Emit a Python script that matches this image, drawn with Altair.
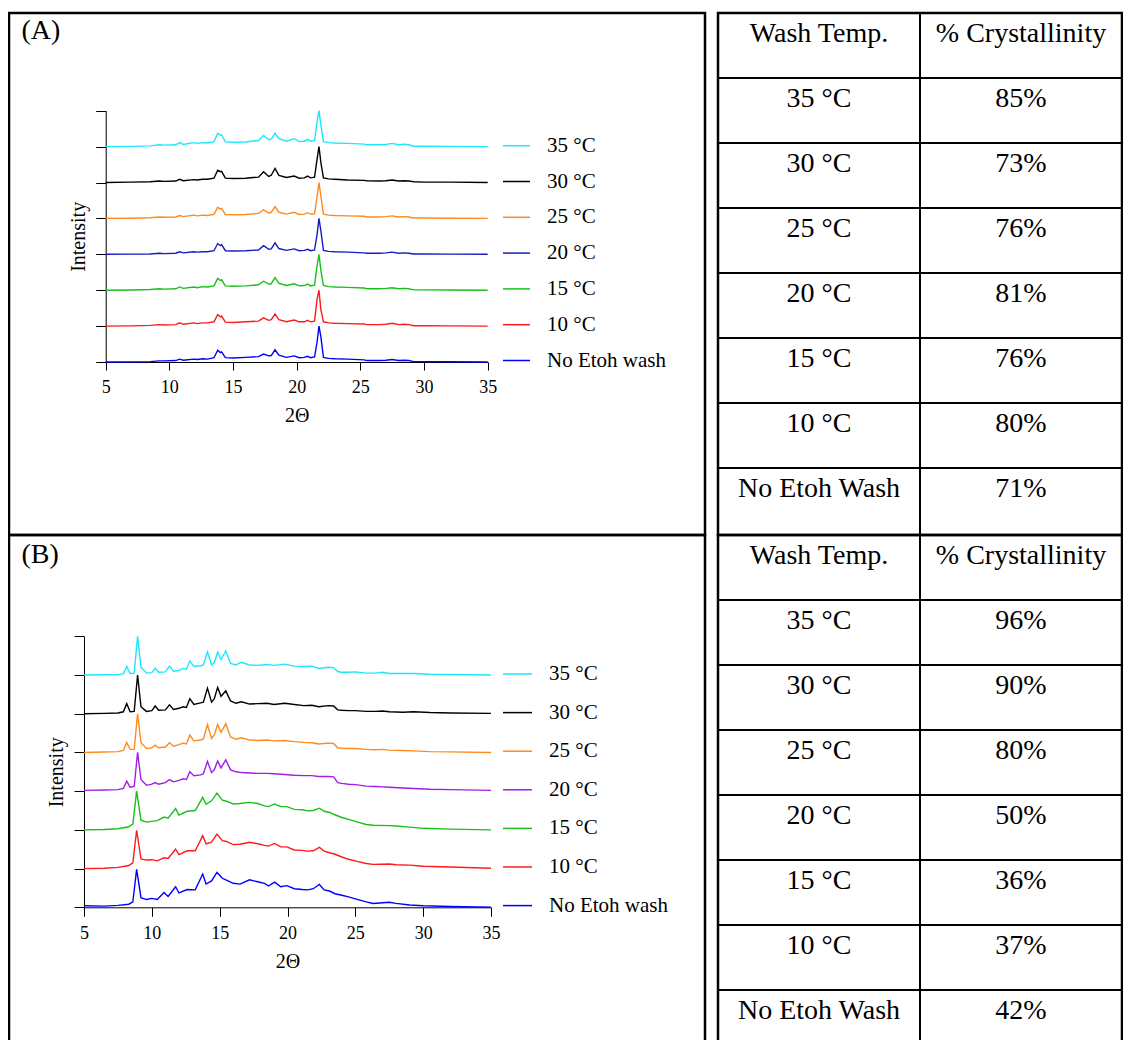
import altair as alt
import pandas as pd

FONT = "Liberation Serif"

# ---------------- data ----------------
series_order = ["35 °C", "30 °C", "25 °C", "20 °C", "15 °C", "10 °C", "No Etoh wash"]

# Panel A : 2-theta grid and relative intensities (100 = tallest peak)
theta_A = [5, 7, 8.5, 9.2, 9.6, 10.5, 10.8, 11.1, 11.9, 12.2, 12.6, 13.0, 13.5, 13.8, 14.0, 14.1,
           14.4, 15, 16, 17.0, 17.4, 17.8, 18.0, 18.3, 18.6, 19.2, 19.8, 20.2, 20.6, 20.85, 21.1,
           21.4, 21.6, 21.75, 21.9, 22.1, 22.5, 23, 24, 25.3, 25.5, 26.5, 27.0, 27.5, 28.0, 28.4,
           28.8, 29.2, 30, 32, 35]
A_35 = [0, 0.5, 2, 5, 4, 5, 11, 6, 11, 9, 11, 10, 14, 37, 32, 33, 13, 12, 13, 17, 31, 19, 21, 37,
        22, 15, 22, 14, 15, 20, 15, 17, 70, 100, 60, 14, 11, 10, 9, 7, 5, 5, 6, 9, 5, 7, 5, 1, 1, 0.5, 0]
A_30 = [0, 1, 2, 4, 3, 4, 9, 5, 8, 7, 9, 9, 12, 34, 30, 31, 12, 11, 12, 15, 30, 17, 20, 39, 20,
        14, 18, 12, 13, 18, 13, 15, 65, 100, 55, 13, 10, 9, 7, 6, 5, 4, 5, 7, 4, 5, 4, 2, 1, 1, 0]
A_25 = [0, 0.5, 2, 4, 3, 4, 8, 5, 9, 7, 9, 8, 11, 31, 26, 28, 11, 10, 11, 14, 24, 15, 17, 33, 17,
        12, 17, 11, 12, 16, 12, 13, 60, 100, 62, 12, 9, 8, 7, 6, 4, 4, 5, 7, 4, 5, 4, 1, 1, 0.5, 0]
A_20 = [0, 0.5, 1, 3, 2, 3, 7, 4, 7, 6, 7, 7, 10, 30, 24, 27, 10, 9, 10, 12, 24, 14, 15, 32, 16,
        11, 15, 10, 11, 14, 10, 12, 55, 100, 65, 11, 8, 7, 6, 4, 3, 3, 4, 6, 3, 4, 3, 1, 1, 0.5, 0]
A_15 = [0, 0.5, 2, 4, 3, 4, 9, 5, 9, 7, 10, 9, 12, 33, 27, 29, 12, 11, 12, 15, 25, 17, 18, 35, 19,
        13, 18, 12, 13, 17, 12, 14, 68, 100, 55, 13, 10, 9, 8, 6, 4, 4, 5, 7, 4, 5, 4, 1, 1, 0.5, 0]
A_10 = [0, 0.5, 2, 4, 3, 4, 9, 5, 9, 7, 9, 9, 12, 32, 26, 28, 11, 10, 12, 14, 23, 16, 18, 34, 18,
        12, 17, 12, 12, 16, 12, 14, 75, 100, 45, 12, 9, 8, 7, 6, 4, 4, 5, 8, 4, 5, 4, 1, 1, 0.5, 0]
A_no = [0, 0.3, 1, 3, 3, 4, 8, 5, 8, 7, 9, 8, 12, 33, 26, 28, 12, 11, 13, 15, 22, 17, 18, 34, 19,
        13, 17, 12, 13, 16, 12, 14, 55, 100, 70, 13, 10, 9, 8, 6, 4, 4, 5, 7, 4, 5, 4, 1, 1, 0.5, 0]

# Panel B : two 2-theta grids
theta_B1 = [5, 6.5, 7.5, 7.9, 8.15, 8.4, 8.7, 8.95, 9.2, 9.6, 10.0, 10.25, 10.5, 11.0, 11.3, 11.6,
            12.0, 12.3, 12.55, 12.8, 13.1, 13.6, 13.8, 14.1, 14.4, 14.6, 14.85, 15.1, 15.45, 15.8,
            16.2, 16.6, 17.2, 17.8, 18.5, 19.0, 19.8, 20.5, 21.2, 21.8, 22.3, 23.0, 23.4, 23.7,
            24.0, 24.5, 25.0, 25.8, 26.5, 27.0, 27.5, 28.5, 29.3, 30.5, 32, 35]
B_35 = [0, 0.5, 1, 3, 22, 4, 5, 100, 20, 5, 6, 18, 7, 8, 23, 10, 12, 17, 15, 36, 22, 24, 26, 60,
        26, 32, 59, 40, 62, 30, 26, 33, 26, 25, 27, 25, 28, 23, 22, 23, 17, 20, 19, 9, 7, 7, 8,
        5, 5, 7, 4, 4, 4, 2, 1.5, 0]
B_30 = [0, 1, 2, 5, 26, 5, 6, 100, 18, 6, 8, 20, 9, 10, 23, 11, 14, 18, 16, 39, 24, 28, 30, 66,
        30, 38, 68, 45, 59, 33, 27, 31, 25, 26, 27, 24, 27, 24, 21, 22, 18, 21, 20, 10, 9, 8, 8,
        6, 6, 7, 5, 4, 5, 3, 2, 1]
B_25 = [0, 1, 2, 5, 26, 8, 8, 100, 25, 10, 12, 19, 12, 14, 25, 16, 20, 24, 22, 45, 30, 32, 35, 72,
        36, 45, 72, 52, 74, 40, 34, 38, 32, 31, 32, 30, 31, 28, 26, 25, 22, 24, 23, 12, 11, 10,
        10, 8, 7, 8, 6, 5, 4, 2, 1.5, 0]
B_20 = [2, 3, 4, 7, 26, 10, 12, 100, 30, 15, 18, 22, 18, 22, 30, 24, 28, 32, 30, 50, 40, 42, 45,
        77, 48, 55, 78, 60, 81, 55, 50, 48, 47, 46, 46, 45, 43, 41, 40, 40, 38, 38, 37, 22, 20,
        18, 17, 13, 12, 11, 10, 8, 7, 5, 4, 2]

theta_B2 = [5, 6.5, 7.5, 8.3, 8.6, 8.88, 9.2, 9.6, 10.0, 10.4, 10.9, 11.2, 11.75, 12.0, 12.6, 13.2,
            13.75, 14.0, 14.4, 14.8, 15.2, 15.5, 16.0, 16.5, 17.2, 17.8, 18.3, 18.6, 19.05, 19.5,
            19.95, 20.5, 21.1, 21.5, 21.9, 22.35, 22.7, 23.1, 23.5, 24.0, 24.5, 25.2, 25.8, 26.3,
            27.5, 28.0, 29.0, 30.0, 32, 35]
B_15 = [0, 1, 3, 8, 15, 100, 25, 20, 22, 24, 33, 30, 55, 38, 48, 50, 84, 66, 75, 95, 77, 74, 67,
        68, 71, 68, 62, 60, 67, 60, 60, 53, 52, 49, 50, 56, 48, 45, 39, 32, 27, 20, 14, 12, 11,
        10, 7, 4, 2, 0]
B_10 = [0, 1, 3, 8, 15, 99, 25, 22, 23, 20, 28, 26, 50, 36, 46, 46, 85, 64, 68, 89, 72, 70, 62,
        63, 68, 64, 60, 58, 65, 56, 56, 48, 47, 45, 46, 55, 45, 41, 37, 30, 24, 18, 13, 11, 12,
        10, 9, 6, 4, 1]
B_no = [4, 3, 5, 8, 14, 98, 25, 20, 23, 20, 38, 28, 53, 37, 46, 45, 86, 60, 68, 90, 75, 70, 62,
        60, 71, 66, 62, 55, 65, 53, 56, 48, 46, 45, 48, 59, 45, 42, 35, 31, 27, 20, 14, 10, 13,
        10, 6, 4, 2, 0]

colors_A = ["#1EE6FF", "#000000", "#FF8A1E", "#1A1AC0", "#19C019", "#FF1A1A", "#0000FF"]
colors_B = ["#1EE6FF", "#000000", "#FF8A1E", "#A01EE6", "#19C019", "#FF1A1A", "#0000FF"]

table_header = ["Wash Temp.", "% Crystallinity"]
table_temps = ["35 °C", "30 °C", "25 °C", "20 °C", "15 °C", "10 °C", "No Etoh Wash"]
cryst_A = ["85%", "73%", "76%", "81%", "76%", "80%", "71%"]
cryst_B = ["96%", "90%", "80%", "50%", "36%", "37%", "42%"]

x_ticks = [5, 10, 15, 20, 25, 30, 35]


def long_df(pairs):
    rows = []
    n = len(series_order)
    for i, name in enumerate(series_order):
        th, vals = pairs[name]
        for t, v in zip(th, vals):
            rows.append({"theta": t, "intensity": v, "series": name, "level": n - 1 - i})
    return pd.DataFrame(rows)


dfA = long_df({
    "35 °C": (theta_A, A_35), "30 °C": (theta_A, A_30), "25 °C": (theta_A, A_25),
    "20 °C": (theta_A, A_20), "15 °C": (theta_A, A_15), "10 °C": (theta_A, A_10),
    "No Etoh wash": (theta_A, A_no)})
dfB = long_df({
    "35 °C": (theta_B1, B_35), "30 °C": (theta_B1, B_30), "25 °C": (theta_B1, B_25),
    "20 °C": (theta_B1, B_20), "15 °C": (theta_B2, B_15), "10 °C": (theta_B2, B_10),
    "No Etoh wash": (theta_B2, B_no)})


def xrd_plot(df, colors, label, W, H, xr, yr, tick_x, leg_x, leg_y, sym_w, row_pad, label_y):
    x = alt.X("theta:Q",
              scale=alt.Scale(domain=[5, 35], range=xr, nice=False, zero=False),
              axis=alt.Axis(values=x_ticks, format="d", title="2Θ", offset=-(H - yr[0]),
                            tickSize=tick_x, labelFont=FONT, labelFontSize=18, labelPadding=8,
                            labelFlush=False, titleFont=FONT, titleFontSize=20,
                            titleFontWeight="normal", titlePadding=9))
    y = alt.Y("yy:Q",
              scale=alt.Scale(domain=[0, 700], range=yr, nice=False, zero=False),
              axis=alt.Axis(values=list(range(0, 701, 100)), labels=False, title="Intensity",
                            offset=-xr[0], tickSize=10, titleFont=FONT, titleFontSize=20,
                            titleFontWeight="normal", titlePadding=7))
    color = alt.Color("series:N",
                      scale=alt.Scale(domain=series_order, range=colors),
                      legend=alt.Legend(title=None, orient="none", legendX=leg_x, legendY=leg_y,
                                        direction="vertical", symbolType="stroke",
                                        symbolSize=sym_w * sym_w, symbolStrokeWidth=1.5,
                                        labelFont=FONT, labelFontSize=21, labelOffset=16,
                                        rowPadding=row_pad, padding=0, labelColor="black"))
    lines = (alt.Chart(df)
             .transform_calculate(yy="datum.intensity + 100 * datum.level")
             .mark_line(strokeWidth=1.4)
             .encode(x=x, y=y, color=color))
    lab = (alt.Chart(pd.DataFrame({"t": [label]}))
           .mark_text(font=FONT, fontSize=28, align="left", baseline="alphabetic", color="black")
           .encode(x=alt.value(12.5), y=alt.value(label_y), text="t:N"))
    return alt.layer(lines, lab).properties(width=W, height=H)


def table(cryst, W, H, row_h):
    row_ids = [f"r{i}" for i in range(8)]
    dft = pd.DataFrame({
        "row": row_ids * 2,
        "col": ["c1"] * 8 + ["c2"] * 8,
        "txt": [table_header[0]] + table_temps + [table_header[1]] + cryst,
    })
    ys = alt.Scale(domain=row_ids, range=[0, 8 * row_h], paddingInner=0, paddingOuter=0)
    xs = alt.Scale(domain=["c1", "c2"], paddingInner=0, paddingOuter=0)
    text = (alt.Chart(dft)
            .mark_text(font=FONT, fontSize=28, baseline="alphabetic", dy=28.5, color="black")
            .encode(x=alt.X("col:N", scale=xs, axis=None),
                    y=alt.Y("row:N", bandPosition=0, scale=ys, axis=None),
                    text="txt:N"))
    hl = (alt.Chart(pd.DataFrame({"row": row_ids[1:]}))
          .mark_rule(color="black", strokeWidth=2)
          .encode(y=alt.Y("row:N", bandPosition=0, scale=ys, axis=None)))
    vl = (alt.Chart(pd.DataFrame({"col": ["c2"]}))
          .mark_rule(color="black", strokeWidth=2)
          .encode(x=alt.X("col:N", bandPosition=0, scale=xs, axis=None)))
    return alt.layer(hl, vl, text).properties(width=W, height=H)


HA = 522
HB = 511
TW = 404
plotA = xrd_plot(dfA, colors_A, "(A)", 696, HA, [96.7, 478.7], [349.0, 97.7], 8,
                 493, 118.2, 27, 10.8, 26)
plotB = xrd_plot(dfB, colors_B, "(B)", 696, HB, [75.0, 482.0], [372.3, 101.3], 9,
                 493, 123.5, 29, 12.6, 28)
tabA = table(cryst_A, TW, HA, 65)
tabB = table(cryst_B, TW, HB, 65)

chart = (alt.concat(plotA, tabA, plotB, tabB, columns=2,
                    spacing={"row": 0, "column": 13}, bounds="flush")
         .resolve_scale(x="independent", y="independent", color="independent")
         .properties(padding={"left": -1, "top": 2, "right": -2, "bottom": -9})
         .configure_view(stroke="black", strokeWidth=2.5)
         .configure_axis(domainColor="black", tickColor="black", labelColor="black",
                         titleColor="black", grid=False, domainWidth=1, tickWidth=1))

chart.save("out.html", embed_options={"renderer": "svg", "actions": False})
